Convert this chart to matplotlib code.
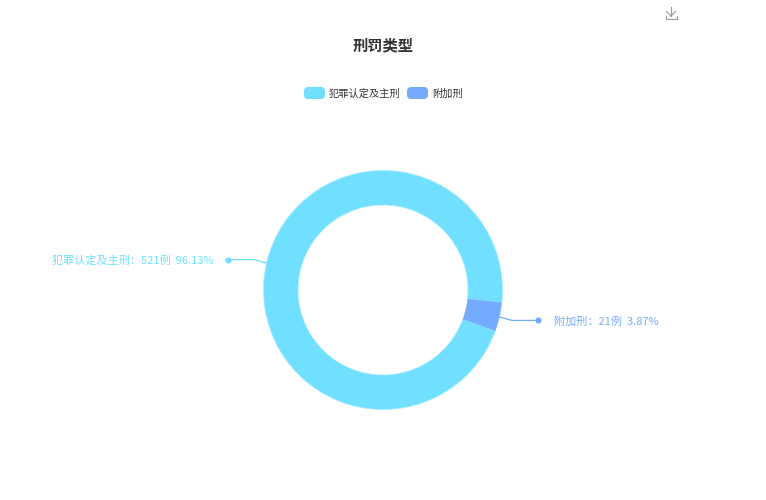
import numpy as np
import matplotlib
matplotlib.use("Agg")
import matplotlib.pyplot as plt
from matplotlib.patches import FancyBboxPatch

plt.rcParams["font.family"] = ["Noto Sans CJK SC", "DejaVu Sans"]

title = "刑罚类型"
categories = ["犯罪认定及主刑", "附加刑"]
counts = [521, 21]
percents = ["96.13%", "3.87%"]
colors = ["#71DFFF", "#75ABFF"]

W, H = 766, 500
CX, CY = 383, 210  # y measured from the bottom
R_OUT, R_IN = 119.5, 85

fig = plt.figure(figsize=(W / 100, H / 100), dpi=100, facecolor="white")
ax = fig.add_axes([0, 0, 1, 1])

# ring, clockwise like the original
wedges, _ = ax.pie(
    counts,
    colors=colors,
    center=(CX, CY),
    radius=R_OUT,
    startangle=-20,
    counterclock=False,
    frame=True,
    wedgeprops=dict(width=R_OUT - R_IN, edgecolor="#A6ECFF", linewidth=0.6),
)
ax.set_xlim(0, W)
ax.set_ylim(0, H)
ax.set_aspect("equal")
ax.axis("off")
wedges[1].set_edgecolor(colors[1])
wedges[1].set_linewidth(0.2)
wedges[1].set_zorder(3)

# label lines start at the slice midpoints
for i, w in enumerate(wedges):
    mid = np.deg2rad((w.theta1 + w.theta2) / 2)
    side = 1 if np.cos(mid) > 0 else -1
    x0 = CX + R_OUT * np.cos(mid)
    y0 = CY + R_OUT * np.sin(mid)
    x1 = x0 + side * 12.5
    y1 = y0 + np.sign(np.sin(mid)) * 3.5
    x2 = x1 + side * 26.5
    ax.plot([x0, x1, x2], [y0, y1, y1], color=colors[i], lw=0.9, solid_joinstyle="round", zorder=4)
    ax.plot([x2], [y1], "o", color=colors[i], ms=4.4, mew=0, zorder=4)
    text = f"{categories[i]}：{counts[i]}例  {percents[i]}"
    ax.text(x2 + side * 15.5 if side > 0 else 52, y1, text, color=colors[i], fontsize=8,
            ha="left", va="center_baseline")

ax.text(383, H - 43.5, title, color="#333333", fontsize=11, fontweight="bold",
        ha="center", va="center_baseline")

# legend
legend_x = [304, 407]
for i, lx in enumerate(legend_x):
    ax.add_patch(FancyBboxPatch((lx + 2, H - 97), 17, 8, boxstyle="round,pad=0,rounding_size=2",
                                mutation_aspect=1, fc=colors[i], ec=colors[i], lw=4 * 0.72))
    ax.text(lx + 25, H - 92.5, categories[i], color="#333333", fontsize=7.35,
            ha="left", va="center_baseline")

# download icon
icon = "#999999"
ax.plot([665.5, 665.5, 677, 677], [H - 15.5, H - 19, H - 19, H - 15.5], color=icon, lw=0.8)
ax.plot([671, 671], [H - 7, H - 16], color=icon, lw=0.8)
ax.plot([666.5, 671, 675.5], [H - 11.5, H - 16, H - 11.5], color=icon, lw=0.8)

fig.savefig("out.png", dpi=100, facecolor="white")
